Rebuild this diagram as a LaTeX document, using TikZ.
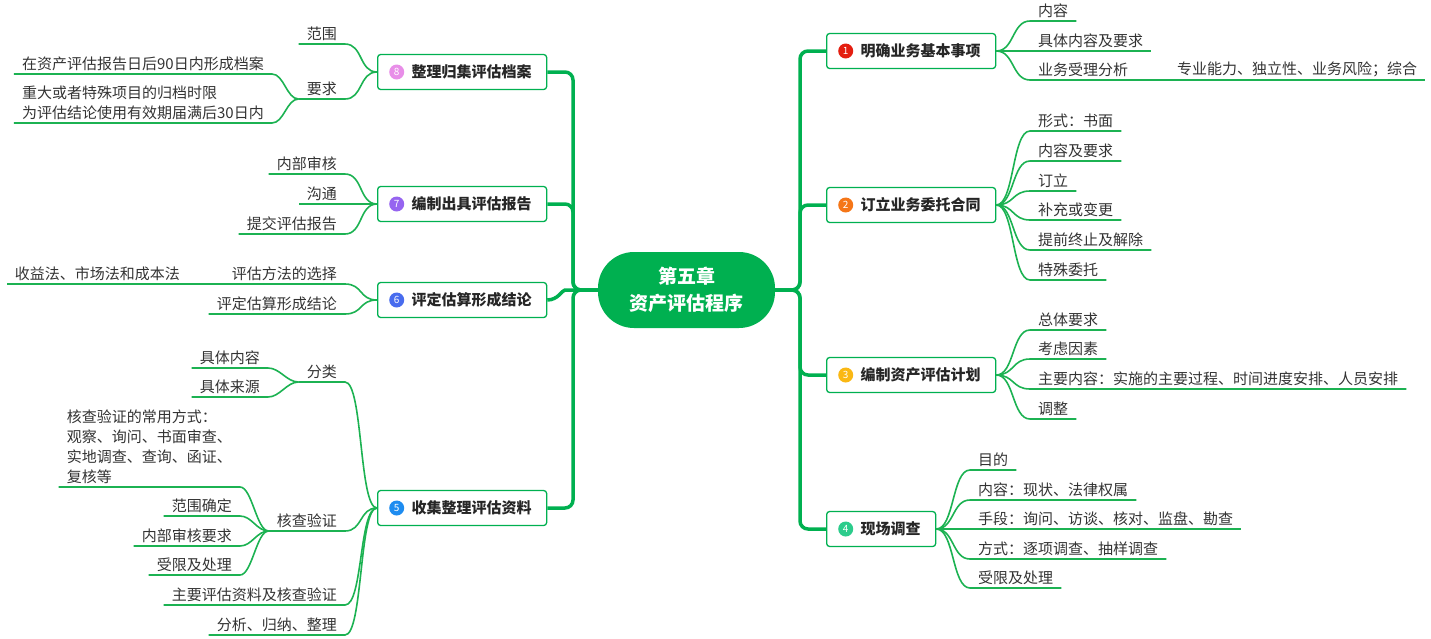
\documentclass[tikz,border=0pt]{standalone}
\usepackage{fontspec}
\setmainfont{Noto Sans CJK SC}
\usepackage{xcolor}
\usepackage{tikz}
\usetikzlibrary{positioning}
\usetikzlibrary{calc}

\definecolor{mapgreen}{RGB}{0,176,80}
\definecolor{twiggreen}{RGB}{28,178,82}
\definecolor{txt}{RGB}{51,51,51}
\definecolor{bdA}{RGB}{228,30,16}
\definecolor{bdB}{RGB}{245,118,24}
\definecolor{bdC}{RGB}{250,184,20}
\definecolor{bdD}{RGB}{44,204,140}
\definecolor{bdE}{RGB}{30,140,240}
\definecolor{bdF}{RGB}{72,108,238}
\definecolor{bdG}{RGB}{150,100,240}
\definecolor{bdH}{RGB}{232,142,232}

\begin{document}
\begin{tikzpicture}[x=1pt,y=-1pt,
    font=\fontsize{15}{20}\selectfont,
    spine/.style={draw=mapgreen, line width=3.5pt, rounded corners=8pt},
    twig/.style={draw=twiggreen, line width=1.6pt},
    topic/.style={draw=mapgreen, line width=1.3pt, rounded corners=3pt, fill=white,
        text=black!85, font=\fontsize{15}{20}\selectfont\bfseries,
        inner xsep=15pt, minimum height=35pt},
    badge/.style={circle, inner sep=0pt, minimum size=15pt, text=white,
        font=\fontsize{10}{10}\selectfont},
    leafr/.style={anchor=south west, inner xsep=8pt, inner ysep=3pt, text=txt, align=left},
    leafl/.style={anchor=south east, inner xsep=8pt, inner ysep=3pt, text=txt, align=left},
  ]
  \useasboundingbox (0,0) rectangle (1431,638);

  % Centre
  \node[fill=mapgreen, text=white, minimum width=177pt, minimum height=76pt,
        rounded corners=36pt, align=center, font=\fontsize{19}{27}\selectfont\bfseries]
        (c) at (686.5,290) {第五章\\资产评估程序};

  % Topics
  \node[topic, anchor=west] (t1) at (826,51)  {\hspace*{19pt}明确业务基本事项};
  \node[topic, anchor=west] (t2) at (826,205) {\hspace*{19pt}订立业务委托合同};
  \node[topic, anchor=west] (t3) at (826,375) {\hspace*{19pt}编制资产评估计划};
  \node[topic, anchor=west] (t4) at (826,529) {\hspace*{19pt}现场调查};
  \node[topic, anchor=west] (t5) at (377,508) {\hspace*{19pt}收集整理评估资料};
  \node[topic, anchor=west] (t6) at (377,300) {\hspace*{19pt}评定估算形成结论};
  \node[topic, anchor=west] (t7) at (377,204) {\hspace*{19pt}编制出具评估报告};
  \node[topic, anchor=west] (t8) at (377,72)  {\hspace*{19pt}整理归集评估档案};

  \foreach \tp/\col/\k in {t1/bdA/1, t2/bdB/2, t3/bdC/3, t4/bdD/4, t5/bdE/5, t6/bdF/6, t7/bdG/7, t8/bdH/8}
    \node[badge, fill=\col, right=12pt of \tp.west] (n\k) {\k};

  % Spines
  \coordinate (rs) at (800,290);
  \coordinate (ls) at (573,290);
  \foreach \tp in {t1,t2,t3,t4}
    \draw[spine] (c.east) -- (rs) |- (\tp.west);
  \foreach \tp in {t8,t7,t5}
    \draw[spine] (c.west) -- (ls) |- (\tp.east);
  \draw[spine] (c.west) -- (ls) to[out=180,in=0] (t6.east);

  % Right side
  \foreach \lbl/\y/\n in {内容/21/1, 具体内容及要求/51/2, 业务受理分析/80/3} {
    \node[leafr] (a\n) at (1030,\y) {\lbl};
    \draw[twig] (t1.east) .. controls ($(t1.east)+(18,0)$) and ($(a\n.south west)+(-18,0)$) .. (a\n.south west) -- (a\n.south east);
  }
  \node[leafr] (a4) at (1169,80) {专业能力、独立性、业务风险；综合};
  \draw[twig] (a3.south east) -- (a4.south west) -- (a4.south east);

  \foreach \lbl/\y/\n in {形式：书面/131/1, 内容及要求/161/2, 订立/191/3, 补充或变更/220/4, 提前终止及解除/250/5, 特殊委托/280/6} {
    \node[leafr] (b\n) at (1030,\y) {\lbl};
    \draw[twig] (t2.east) .. controls ($(t2.east)+(18,0)$) and ($(b\n.south west)+(-18,0)$) .. (b\n.south west) -- (b\n.south east);
  }

  \foreach \lbl/\y/\n in {总体要求/330/1, 考虑因素/359/2, 主要内容：实施的主要过程、时间进度安排、人员安排/389/3, 调整/419/4} {
    \node[leafr] (d\n) at (1030,\y) {\lbl};
    \draw[twig] (t3.east) .. controls ($(t3.east)+(18,0)$) and ($(d\n.south west)+(-18,0)$) .. (d\n.south west) -- (d\n.south east);
  }

  \foreach \lbl/\y/\n in {目的/470/1, 内容：现状、法律权属/500/2, 手段：询问、访谈、核对、监盘、勘查/529/3, 方式：逐项调查、抽样调查/559/4, 受限及处理/588/5} {
    \node[leafr] (g\n) at (970,\y) {\lbl};
    \draw[twig] (t4.east) .. controls ($(t4.east)+(18,0)$) and ($(g\n.south west)+(-18,0)$) .. (g\n.south west) -- (g\n.south east);
  }

  % Left side
  \foreach \lbl/\y/\n in {范围/44/1, 要求/99/2} {
    \node[leafl] (h\n) at (345,\y) {\lbl};
    \draw[twig] (t8.west) .. controls ($(t8.west)+(-18,0)$) and ($(h\n.south east)+(18,0)$) .. (h\n.south east) -- (h\n.south west);
  }
  \node[leafl] (h3) at (272,74) {在资产评估报告日后90日内形成档案};
  \node[leafl] (h4) at (272,123) {重大或者特殊项目的归档时限\\为评估结论使用有效期届满后30日内};
  \foreach \n in {3,4}
    \draw[twig] (h2.south west) .. controls ($(h2.south west)+(-12,0)$) and ($(h\n.south east)+(12,0)$) .. (h\n.south east) -- (h\n.south west);

  \foreach \lbl/\y/\n in {内部审核/174/1, 沟通/204/2, 提交评估报告/234/3} {
    \node[leafl] (k\n) at (345,\y) {\lbl};
    \draw[twig] (t7.west) .. controls ($(t7.west)+(-18,0)$) and ($(k\n.south east)+(18,0)$) .. (k\n.south east) -- (k\n.south west);
  }

  \foreach \lbl/\y/\n in {评估方法的选择/284/1, 评定估算形成结论/314/2} {
    \node[leafl] (f\n) at (345,\y) {\lbl};
    \draw[twig] (t6.west) .. controls ($(t6.west)+(-18,0)$) and ($(f\n.south east)+(18,0)$) .. (f\n.south east) -- (f\n.south west);
  }
  \node[leafl] (f3) at (188,284) {收益法、市场法和成本法};
  \draw[twig] (f1.south west) -- (f3.south east) -- (f3.south west);

  \foreach \lbl/\y/\n in {分类/382/1, 核查验证/531/2, 主要评估资料及核查验证/605/3, 分析、归纳、整理/635/4} {
    \node[leafl] (e\n) at (345,\y) {\lbl};
    \draw[twig] (t5.west) .. controls ($(t5.west)+(-18,0)$) and ($(e\n.south east)+(18,0)$) .. (e\n.south east) -- (e\n.south west);
  }
  \foreach \lbl/\y/\n in {具体内容/368/1, 具体来源/397/2} {
    \node[leafl] (p\n) at (268,\y) {\lbl};
    \draw[twig] (e1.south west) .. controls ($(e1.south west)+(-12,0)$) and ($(p\n.south east)+(12,0)$) .. (p\n.south east) -- (p\n.south west);
  }
  \node[leafl] (q1) at (240,487) {核查验证的常用方式：\\观察、询问、书面审查、\\实地调查、查询、函证、\\复核等};
  \foreach \lbl/\y/\n in {范围确定/516/2, 内部审核要求/546/3, 受限及处理/575/4}
    \node[leafl] (q\n) at (240,\y) {\lbl};
  \foreach \n in {1,2,3,4}
    \draw[twig] (e2.south west) .. controls ($(e2.south west)+(-12,0)$) and ($(q\n.south east)+(12,0)$) .. (q\n.south east) -- (q\n.south west);
\end{tikzpicture}
\end{document}
